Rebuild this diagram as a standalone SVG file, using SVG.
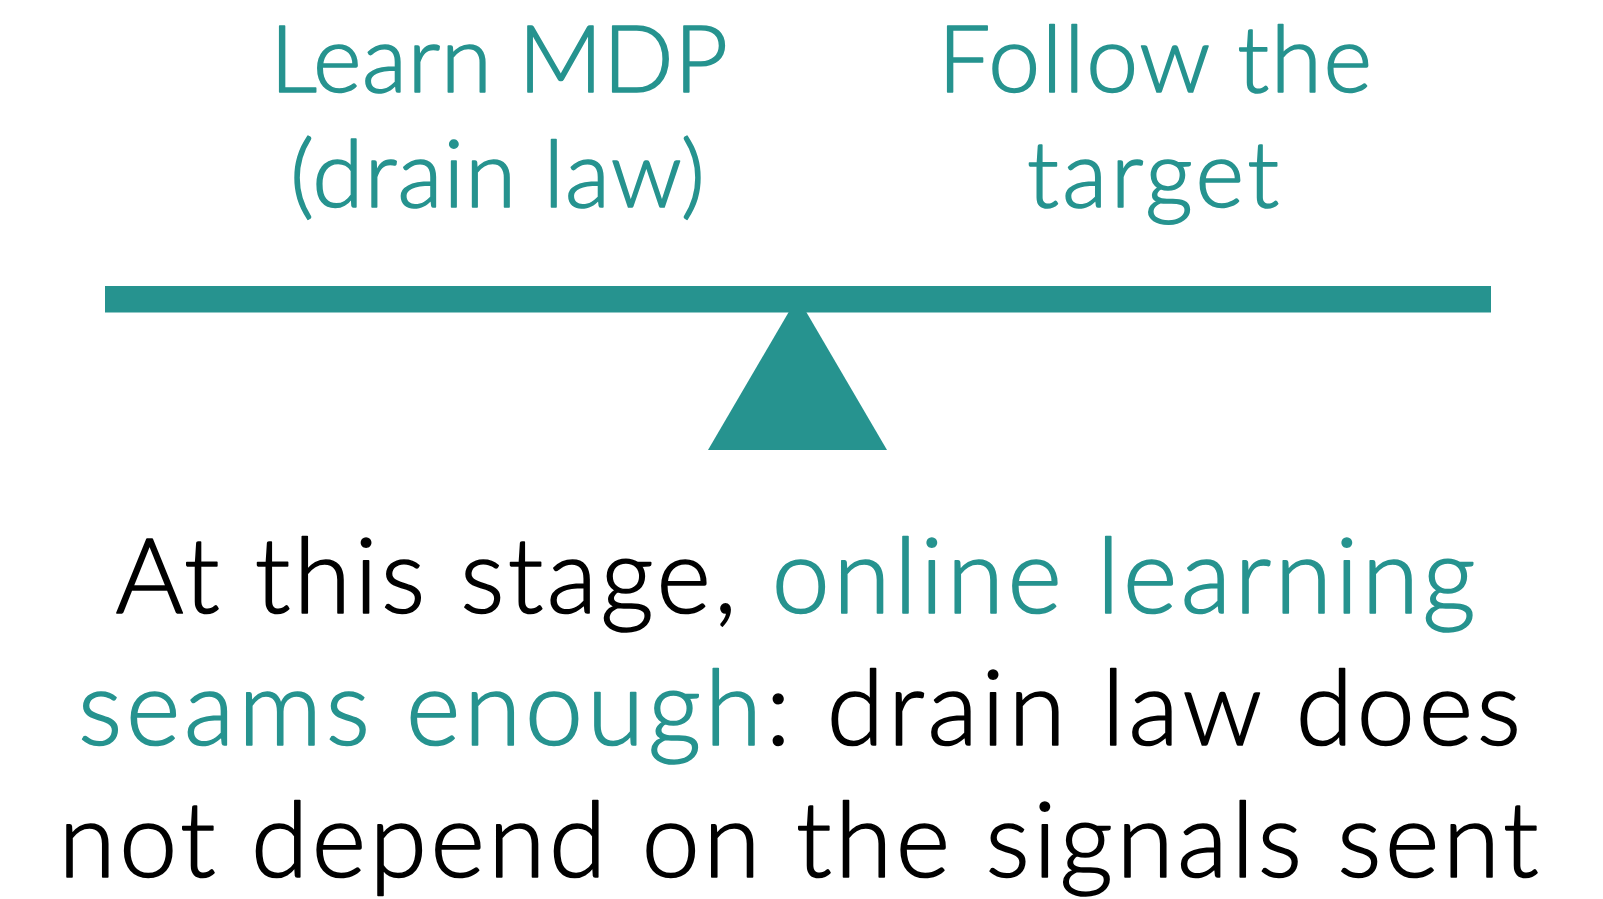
<svg xmlns="http://www.w3.org/2000/svg" width="1603" height="899" viewBox="0 0 1603 899">
  <style>
    .teal { fill: #26938F; stroke: #26938F; }
    .ink { fill: #000000; stroke: #000000; }
    .label, .body { font-family: Lato, "Open Sans", "Liberation Sans", sans-serif; font-weight: 300; stroke-width: 1.6px; stroke-linejoin: round; }
    .label { font-size: 93px; }
    .body { font-size: 104px; }
    .shape { fill: #26938F; }
  </style>
  <rect width="1603" height="899" fill="#ffffff"/>

  <!-- left pan label -->
  <g id="learn-mdp">
    <text class="label teal" x="270" y="92" textLength="458" lengthAdjust="spacing">Learn MDP</text>
    <text class="label teal" x="290" y="207" textLength="415" lengthAdjust="spacing">(drain law)</text>
  </g>

  <!-- right pan label -->
  <g id="follow-target">
    <text class="label teal" x="938" y="92" textLength="434" lengthAdjust="spacing">Follow the</text>
    <text class="label teal" x="1027" y="207" textLength="252" lengthAdjust="spacing">target</text>
  </g>

  <!-- balance: beam on a fulcrum -->
  <g id="balance">
    <polygon class="shape" points="797.5,297 887,450 708,450"/>
    <rect class="shape" x="105" y="286" width="1386" height="26.5"/>
  </g>

  <!-- conclusion -->
  <g id="conclusion">
    <text class="body ink" x="115.5" y="613" textLength="1360" lengthAdjust="spacing">At this stage, <tspan class="teal">online learning</tspan></text>
    <text class="body ink" x="78" y="745" textLength="1443" lengthAdjust="spacing"><tspan class="teal">seams enough</tspan>: drain law does</text>
    <text class="body ink" x="58.5" y="877" textLength="1480" lengthAdjust="spacing">not depend on the signals sent</text>
  </g>
</svg>
